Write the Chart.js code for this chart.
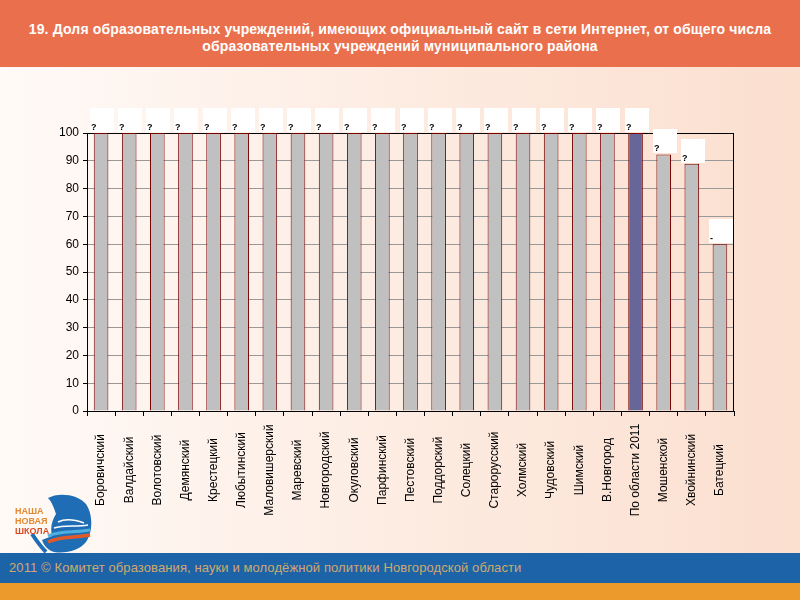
<!DOCTYPE html>
<html><head><meta charset="utf-8">
<script src="https://cdn.jsdelivr.net/npm/chart.js@4/dist/chart.umd.min.js"></script>
<style>
html,body{margin:0;padding:0;width:800px;height:600px;overflow:hidden;}
body{position:relative;background:linear-gradient(to right,#fffaf7 0%,#fdece2 50%,#fbdfcf 100%);font-family:"Liberation Sans",Arial,sans-serif;}
#hdr{position:absolute;left:0;top:0;width:800px;height:67px;background:#ea704d;color:#fff;font-weight:bold;font-size:14px;line-height:17px;text-align:center;letter-spacing:0.15px;}
#hdr div{position:absolute;left:0;right:0;top:21px;}
#cv{position:absolute;left:0;top:67px;}
#foot{position:absolute;left:0;top:553px;width:800px;height:30px;background:#1d63a8;color:#cfa96e;font-size:13px;line-height:30px;padding-left:9px;box-sizing:border-box;letter-spacing:0.1px;}
#foot2{position:absolute;left:0;top:583px;width:800px;height:17px;background:#ec9a2c;}
#logo{position:absolute;left:0;top:490px;}
#lt{position:absolute;left:15px;top:506px;font-size:9px;font-weight:bold;line-height:10px;color:#e38a32;z-index:2;}
#lt span{color:#d94a20;}
</style></head>
<body>
<div id="hdr"><div>19. Доля образовательных учреждений, имеющих официальный сайт в сети Интернет, от общего числа<br>образовательных учреждений муниципального района</div></div>
<svg id="logo" width="100" height="64" viewBox="0 0 100 64">
  <path d="M48 8 C58 2 78 4 86 14 C94 26 92 44 86 52 C80 60 66 64 54 62 C48 60 44 56 42 50 L52 46 C50 38 52 30 56 24 C54 18 52 12 48 8 Z" fill="#1f6db4"/>
  <path d="M58 32 C66 28 76 30 84 33" stroke="#ffffff" stroke-width="1.5" fill="none"/>
  <path d="M54 38 C64 35 76 37 88 35" stroke="#ffffff" stroke-width="1.5" fill="none"/>
  <path d="M48 46 C60 40 74 43 90 40" stroke="#4db0e0" stroke-width="3" fill="none"/>
  <path d="M48 52 C60 46 74 48 90 45" stroke="#e25a2a" stroke-width="3.5" fill="none"/>
  <path d="M32 44 C36 50 40 56 46 62" stroke="#1f6db4" stroke-width="4" fill="none"/>
</svg>
<div id="lt">НАША<br>НОВАЯ<br><span>ШКОЛА</span></div>
<canvas id="cv" width="800" height="486"></canvas>
<div id="foot">2011 © Комитет образования, науки и молодёжной политики Новгородской области</div>
<div id="foot2"></div>
<script>
const categories = ["Боровичский","Валдайский","Волотовский","Демянский","Крестецкий","Любытинский","Маловишерский","Маревский","Новгородский","Окуловский","Парфинский","Пестовский","Поддорский","Солецкий","Старорусский","Холмский","Чудовский","Шимский","В.Новгород","По области 2011","Мошенской","Хвойнинский","Батецкий"];
const values = [100,100,100,100,100,100,100,100,100,100,100,100,100,100,100,100,100,100,100,100,92.3,88.9,60];
const highlightCategory = "По области 2011";
const yTicks = [0,10,20,30,40,50,60,70,80,90,100];
const dataLabels = values.map((v,i)=> i===values.length-1 ? "-" : "?");

const barColors = categories.map(c => c===highlightCategory ? "#666699" : "#c0c0c0");

const framePlugin = {
  id:'frame',
  beforeDatasetsDraw(chart){
    const {ctx, chartArea:a} = chart;
    ctx.save();
    ctx.strokeStyle = '#000'; ctx.lineWidth = 1;
    ctx.strokeRect(Math.round(a.left)+0.5, Math.round(a.top)+0.5, Math.round(a.right-a.left)-1, Math.round(a.bottom-a.top));
    ctx.restore();
  },
  afterDatasetsDraw(chart){
    const {ctx} = chart;
    const meta = chart.getDatasetMeta(0);
    const xs = chart.scales.x;
    ctx.save();
    meta.data.forEach((bar,i)=>{
      const bx = Math.round(bar.x - 11);
      const by = Math.round(bar.y - 25);
      ctx.fillStyle = '#ffffff';
      ctx.fillRect(bx, by, 24, 24);
      ctx.fillStyle = '#000';
      ctx.font = 'bold 9px "Liberation Sans", Arial, sans-serif';
      ctx.textAlign = 'left'; ctx.textBaseline = 'alphabetic';
      ctx.fillText(dataLabels[i], bx+1, by+22);
    });
    ctx.fillStyle = '#000';
    ctx.font = '12px "Liberation Sans", Arial, sans-serif';
    ctx.textAlign = 'center'; ctx.textBaseline = 'middle';
    categories.forEach((c,i)=>{
      const x = xs.getPixelForValue(i);
      ctx.save();
      ctx.translate(x, 403);
      ctx.rotate(-Math.PI/2);
      ctx.fillText(c, 0, 0);
      ctx.restore();
    });
    ctx.restore();
  }
};

new Chart(document.getElementById('cv'), {
  type:'bar',
  data:{ labels:categories, datasets:[{ data:values, backgroundColor:barColors, borderColor:'#7a0000', borderWidth:{left:1,right:1,top:1,bottom:0}, borderSkipped:'bottom', categoryPercentage:1, barPercentage:0.52 }]},
  options:{
    responsive:false, animation:false, devicePixelRatio:1,
    layout:{ padding:{ left:57, right:66, top:66, bottom:0 } },
    plugins:{ legend:{display:false}, tooltip:{enabled:false}, title:{display:false} },
    scales:{
      x:{
        offset:true,
        grid:{ display:true, offset:true, drawOnChartArea:false, drawTicks:true, tickLength:5, color:'#000', tickColor:'#000' },
        border:{ display:true, color:'#000' },
        ticks:{ display:false },
        afterFit(s){ s.height = 142; }
      },
      y:{
        min:0, max:100,
        afterBuildTicks(s){ s.ticks = yTicks.map(v=>({value:v})); },
        grid:{ color:'#999999', tickColor:'#000', tickLength:4, drawTicks:true },
        border:{ display:true, color:'#000' },
        ticks:{ color:'#000', padding:4, font:{ size:12, family:'"Liberation Sans", Arial, sans-serif' } },
        afterFit(s){ s.width = 30; }
      }
    }
  },
  plugins:[framePlugin]
});
</script>
</body></html>
